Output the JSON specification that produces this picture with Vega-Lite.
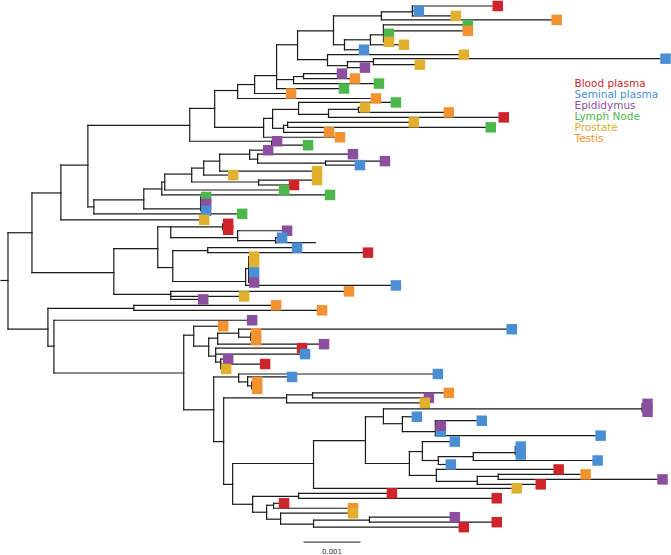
{
  "$schema": "https://vega.github.io/schema/vega-lite/v6.json",
  "width": 671,
  "height": 555,
  "autosize": {"type": "fit", "contains": "padding"},
  "padding": 0,
  "background": "white",
  "config": {"view": {"stroke": null}},
  "datasets": {
    "branches": [
      {"x":0,"x2":7,"y":280,"y2":280},{"x":7,"x2":7,"y":232,"y2":329},
      {"x":7,"x2":31,"y":232,"y2":232},{"x":31,"x2":31,"y":192,"y2":272},
      {"x":31,"x2":60,"y":192,"y2":192},{"x":60,"x2":60,"y":164,"y2":219},
      {"x":60,"x2":198,"y":219,"y2":219},
      {"x":60,"x2":87,"y":164,"y2":164},{"x":87,"x2":87,"y":124,"y2":206},
      {"x":87,"x2":189,"y":124,"y2":124},{"x":189,"x2":189,"y":107,"y2":140},
      {"x":189,"x2":214,"y":107,"y2":107},{"x":214,"x2":214,"y":89,"y2":126},
      {"x":214,"x2":237,"y":89,"y2":89},{"x":237,"x2":237,"y":83,"y2":97},
      {"x":237,"x2":370,"y":97,"y2":97},
      {"x":237,"x2":254,"y":83,"y2":83},{"x":254,"x2":254,"y":74,"y2":92},
      {"x":254,"x2":285,"y":92,"y2":92},
      {"x":254,"x2":276,"y":74,"y2":74},{"x":276,"x2":276,"y":43,"y2":87},
      {"x":276,"x2":338,"y":87,"y2":87},
      {"x":276,"x2":293,"y":78,"y2":78},{"x":293,"x2":293,"y":75,"y2":82},
      {"x":293,"x2":373,"y":82,"y2":82},
      {"x":293,"x2":303,"y":75,"y2":75},{"x":303,"x2":303,"y":72,"y2":77},
      {"x":303,"x2":336,"y":72,"y2":72},{"x":303,"x2":349,"y":77,"y2":77},
      {"x":276,"x2":297,"y":43,"y2":43},{"x":297,"x2":297,"y":29,"y2":58},
      {"x":297,"x2":333,"y":29,"y2":29},{"x":333,"x2":333,"y":14,"y2":43},
      {"x":333,"x2":381,"y":14,"y2":14},{"x":381,"x2":381,"y":10,"y2":18},
      {"x":381,"x2":412,"y":10,"y2":10},{"x":412,"x2":412,"y":4,"y2":14},
      {"x":412,"x2":492,"y":4,"y2":4},{"x":412,"x2":413,"y":9,"y2":9},{"x":412,"x2":450,"y":14,"y2":14},
      {"x":381,"x2":551,"y":18,"y2":18},
      {"x":333,"x2":344,"y":43,"y2":43},{"x":344,"x2":344,"y":38,"y2":48},
      {"x":344,"x2":370,"y":38,"y2":38},{"x":370,"x2":370,"y":33,"y2":43},
      {"x":370,"x2":383,"y":33,"y2":33},{"x":383,"x2":383,"y":23,"y2":40},
      {"x":383,"x2":462,"y":23,"y2":23},{"x":383,"x2":462,"y":29,"y2":29},
      {"x":370,"x2":398,"y":43,"y2":43},
      {"x":344,"x2":358,"y":48,"y2":48},
      {"x":297,"x2":327,"y":58,"y2":58},{"x":327,"x2":327,"y":53,"y2":64},
      {"x":327,"x2":458,"y":53,"y2":53},
      {"x":327,"x2":347,"y":64,"y2":64},{"x":347,"x2":347,"y":60,"y2":66},
      {"x":347,"x2":373,"y":60,"y2":60},{"x":373,"x2":373,"y":57,"y2":63},
      {"x":373,"x2":660,"y":57,"y2":57},{"x":373,"x2":414,"y":63,"y2":63},
      {"x":347,"x2":359,"y":66,"y2":66},
      {"x":214,"x2":263,"y":126,"y2":126},{"x":263,"x2":263,"y":117,"y2":136},
      {"x":263,"x2":272,"y":117,"y2":117},{"x":272,"x2":272,"y":108,"y2":127},
      {"x":272,"x2":298,"y":108,"y2":108},{"x":298,"x2":298,"y":101,"y2":113},
      {"x":298,"x2":390,"y":101,"y2":101},
      {"x":298,"x2":328,"y":113,"y2":113},{"x":328,"x2":328,"y":108,"y2":116},
      {"x":328,"x2":358,"y":108,"y2":108},{"x":358,"x2":358,"y":106,"y2":111},
      {"x":358,"x2":359,"y":106,"y2":106},{"x":358,"x2":443,"y":111,"y2":111},
      {"x":328,"x2":498,"y":116,"y2":116},
      {"x":272,"x2":283,"y":127,"y2":127},{"x":283,"x2":283,"y":124,"y2":131},
      {"x":283,"x2":287,"y":124,"y2":124},{"x":287,"x2":287,"y":121,"y2":126},
      {"x":287,"x2":408,"y":121,"y2":121},{"x":287,"x2":485,"y":126,"y2":126},
      {"x":283,"x2":323,"y":131,"y2":131},
      {"x":263,"x2":334,"y":136,"y2":136},
      {"x":189,"x2":271,"y":140,"y2":140},{"x":271,"x2":271,"y":140,"y2":144},
      {"x":271,"x2":302,"y":144,"y2":144},
      {"x":87,"x2":93,"y":206,"y2":206},{"x":93,"x2":93,"y":199,"y2":213},
      {"x":93,"x2":236,"y":213,"y2":213},
      {"x":93,"x2":143,"y":199,"y2":199},{"x":143,"x2":143,"y":188,"y2":208},
      {"x":143,"x2":200,"y":208,"y2":208},{"x":200,"x2":200,"y":196,"y2":210},
      {"x":143,"x2":161,"y":188,"y2":188},{"x":161,"x2":161,"y":181,"y2":194},
      {"x":161,"x2":324,"y":194,"y2":194},
      {"x":161,"x2":164,"y":181,"y2":181},{"x":164,"x2":164,"y":173,"y2":189},
      {"x":164,"x2":278,"y":189,"y2":189},
      {"x":164,"x2":191,"y":173,"y2":173},{"x":191,"x2":191,"y":167,"y2":181},
      {"x":191,"x2":258,"y":181,"y2":181},{"x":258,"x2":258,"y":179,"y2":184},
      {"x":258,"x2":311,"y":179,"y2":179},{"x":258,"x2":288,"y":184,"y2":184},
      {"x":191,"x2":203,"y":167,"y2":167},{"x":203,"x2":203,"y":160,"y2":174},
      {"x":203,"x2":227,"y":174,"y2":174},
      {"x":203,"x2":219,"y":160,"y2":160},{"x":219,"x2":219,"y":153,"y2":170},
      {"x":219,"x2":311,"y":170,"y2":170},
      {"x":219,"x2":249,"y":153,"y2":153},{"x":249,"x2":249,"y":149,"y2":158},
      {"x":249,"x2":262,"y":149,"y2":149},
      {"x":249,"x2":257,"y":158,"y2":158},{"x":257,"x2":257,"y":153,"y2":162},
      {"x":257,"x2":347,"y":153,"y2":153},
      {"x":257,"x2":325,"y":162,"y2":162},{"x":325,"x2":325,"y":160,"y2":164},
      {"x":325,"x2":379,"y":160,"y2":160},{"x":325,"x2":354,"y":164,"y2":164},
      {"x":31,"x2":113,"y":272,"y2":272},{"x":113,"x2":113,"y":248,"y2":294},
      {"x":113,"x2":157,"y":248,"y2":248},{"x":157,"x2":157,"y":226,"y2":267},
      {"x":157,"x2":170,"y":226,"y2":226},{"x":170,"x2":170,"y":226,"y2":237},
      {"x":170,"x2":222,"y":226,"y2":226},{"x":222,"x2":222,"y":223,"y2":229},
      {"x":170,"x2":237,"y":237,"y2":237},{"x":237,"x2":237,"y":230,"y2":240},
      {"x":237,"x2":281,"y":230,"y2":230},
      {"x":237,"x2":275,"y":240,"y2":240},{"x":275,"x2":275,"y":237,"y2":242},
      {"x":275,"x2":276,"y":237,"y2":237},{"x":275,"x2":315,"y":242,"y2":242},
      {"x":157,"x2":172,"y":267,"y2":267},{"x":172,"x2":172,"y":250,"y2":281},
      {"x":172,"x2":207,"y":250,"y2":250},{"x":207,"x2":207,"y":247,"y2":252},
      {"x":207,"x2":291,"y":247,"y2":247},{"x":207,"x2":362,"y":252,"y2":252},
      {"x":172,"x2":245,"y":281,"y2":281},{"x":245,"x2":245,"y":268,"y2":285},
      {"x":245,"x2":248,"y":268,"y2":268},{"x":248,"x2":248,"y":256,"y2":282},
      {"x":245,"x2":390,"y":285,"y2":285},
      {"x":113,"x2":170,"y":294,"y2":294},{"x":170,"x2":170,"y":291,"y2":299},
      {"x":170,"x2":343,"y":291,"y2":291},{"x":170,"x2":238,"y":296,"y2":296},{"x":170,"x2":197,"y":299,"y2":299},
      {"x":7,"x2":47,"y":329,"y2":329},{"x":47,"x2":47,"y":308,"y2":346},
      {"x":47,"x2":133,"y":308,"y2":308},{"x":133,"x2":133,"y":305,"y2":310},
      {"x":133,"x2":270,"y":305,"y2":305},{"x":133,"x2":316,"y":310,"y2":310},
      {"x":47,"x2":53,"y":346,"y2":346},{"x":53,"x2":53,"y":320,"y2":373},
      {"x":53,"x2":246,"y":320,"y2":320},
      {"x":53,"x2":183,"y":373,"y2":373},{"x":183,"x2":183,"y":335,"y2":410},
      {"x":183,"x2":193,"y":335,"y2":335},{"x":193,"x2":193,"y":326,"y2":346},
      {"x":193,"x2":217,"y":326,"y2":326},
      {"x":193,"x2":208,"y":346,"y2":346},{"x":208,"x2":208,"y":338,"y2":356},
      {"x":208,"x2":217,"y":338,"y2":338},{"x":217,"x2":217,"y":333,"y2":344},
      {"x":217,"x2":238,"y":333,"y2":333},{"x":238,"x2":238,"y":329,"y2":337},
      {"x":238,"x2":506,"y":329,"y2":329},
      {"x":238,"x2":250,"y":337,"y2":337},{"x":250,"x2":250,"y":333,"y2":340},
      {"x":217,"x2":318,"y":344,"y2":344},
      {"x":208,"x2":215,"y":356,"y2":356},{"x":215,"x2":215,"y":348,"y2":362},
      {"x":215,"x2":296,"y":348,"y2":348},{"x":215,"x2":299,"y":354,"y2":354},
      {"x":215,"x2":220,"y":362,"y2":362},{"x":220,"x2":220,"y":359,"y2":369},
      {"x":220,"x2":222,"y":359,"y2":359},{"x":220,"x2":259,"y":364,"y2":364},
      {"x":183,"x2":213,"y":410,"y2":410},{"x":213,"x2":213,"y":377,"y2":442},
      {"x":213,"x2":238,"y":377,"y2":377},{"x":238,"x2":238,"y":374,"y2":382},
      {"x":238,"x2":432,"y":374,"y2":374},
      {"x":238,"x2":247,"y":382,"y2":382},{"x":247,"x2":247,"y":377,"y2":386},
      {"x":247,"x2":286,"y":377,"y2":377},
      {"x":247,"x2":251,"y":386,"y2":386},{"x":251,"x2":251,"y":382,"y2":389},
      {"x":213,"x2":223,"y":442,"y2":442},{"x":223,"x2":223,"y":398,"y2":485},
      {"x":223,"x2":286,"y":398,"y2":398},{"x":286,"x2":286,"y":395,"y2":403},
      {"x":286,"x2":312,"y":395,"y2":395},{"x":312,"x2":312,"y":393,"y2":398},
      {"x":312,"x2":443,"y":393,"y2":393},{"x":312,"x2":423,"y":398,"y2":398},
      {"x":286,"x2":419,"y":403,"y2":403},
      {"x":223,"x2":232,"y":485,"y2":485},{"x":232,"x2":232,"y":464,"y2":505},
      {"x":232,"x2":313,"y":464,"y2":464},{"x":313,"x2":313,"y":441,"y2":489},
      {"x":313,"x2":365,"y":441,"y2":441},{"x":365,"x2":365,"y":417,"y2":464},
      {"x":365,"x2":383,"y":417,"y2":417},{"x":383,"x2":383,"y":409,"y2":424},
      {"x":383,"x2":642,"y":409,"y2":409},{"x":642,"x2":642,"y":404,"y2":412},
      {"x":383,"x2":402,"y":424,"y2":424},{"x":402,"x2":402,"y":417,"y2":432},
      {"x":402,"x2":411,"y":417,"y2":417},
      {"x":402,"x2":435,"y":432,"y2":432},{"x":435,"x2":435,"y":421,"y2":436},
      {"x":435,"x2":476,"y":421,"y2":421},{"x":435,"x2":595,"y":436,"y2":436},
      {"x":365,"x2":409,"y":464,"y2":464},{"x":409,"x2":409,"y":452,"y2":476},
      {"x":409,"x2":422,"y":452,"y2":452},{"x":422,"x2":422,"y":442,"y2":461},
      {"x":422,"x2":449,"y":442,"y2":442},
      {"x":422,"x2":438,"y":461,"y2":461},{"x":438,"x2":438,"y":457,"y2":465},
      {"x":438,"x2":473,"y":457,"y2":457},{"x":473,"x2":473,"y":453,"y2":461},
      {"x":473,"x2":515,"y":453,"y2":453},{"x":515,"x2":515,"y":447,"y2":455},
      {"x":473,"x2":592,"y":461,"y2":461},
      {"x":438,"x2":445,"y":465,"y2":465},
      {"x":409,"x2":436,"y":476,"y2":476},{"x":436,"x2":436,"y":470,"y2":482},
      {"x":436,"x2":553,"y":470,"y2":470},
      {"x":436,"x2":477,"y":482,"y2":482},{"x":477,"x2":477,"y":477,"y2":485},
      {"x":477,"x2":498,"y":477,"y2":477},{"x":498,"x2":498,"y":475,"y2":480},
      {"x":498,"x2":580,"y":475,"y2":475},{"x":498,"x2":657,"y":480,"y2":480},
      {"x":477,"x2":535,"y":485,"y2":485},
      {"x":313,"x2":511,"y":489,"y2":489},
      {"x":232,"x2":252,"y":505,"y2":505},{"x":252,"x2":252,"y":497,"y2":513},
      {"x":252,"x2":298,"y":497,"y2":497},{"x":298,"x2":298,"y":494,"y2":499},
      {"x":298,"x2":386,"y":494,"y2":494},{"x":298,"x2":491,"y":499,"y2":499},
      {"x":252,"x2":266,"y":513,"y2":513},{"x":266,"x2":266,"y":506,"y2":520},
      {"x":266,"x2":273,"y":506,"y2":506},{"x":273,"x2":273,"y":504,"y2":509},
      {"x":273,"x2":278,"y":504,"y2":504},{"x":273,"x2":347,"y":509,"y2":509},
      {"x":266,"x2":280,"y":520,"y2":520},{"x":280,"x2":280,"y":514,"y2":525},
      {"x":280,"x2":347,"y":514,"y2":514},
      {"x":280,"x2":313,"y":525,"y2":525},{"x":313,"x2":313,"y":521,"y2":528},
      {"x":313,"x2":369,"y":521,"y2":521},{"x":369,"x2":369,"y":518,"y2":523},
      {"x":369,"x2":449,"y":518,"y2":518},{"x":369,"x2":491,"y":523,"y2":523},
      {"x":313,"x2":458,"y":528,"y2":528}
    ],
    "tips": [
      {"x":492,"y":4,"tissue":"Blood plasma"},{"x":413,"y":9,"tissue":"Seminal plasma"},
      {"x":450,"y":14,"tissue":"Prostate"},{"x":551,"y":18,"tissue":"Testis"},
      {"x":462,"y":23,"tissue":"Lymph Node"},{"x":462,"y":29,"tissue":"Testis"},
      {"x":383,"y":32,"tissue":"Lymph Node"},{"x":383,"y":40,"tissue":"Prostate"},
      {"x":398,"y":43,"tissue":"Prostate"},{"x":358,"y":48,"tissue":"Seminal plasma"},
      {"x":458,"y":53,"tissue":"Prostate"},{"x":660,"y":57,"tissue":"Seminal plasma"},
      {"x":414,"y":63,"tissue":"Prostate"},{"x":359,"y":66,"tissue":"Epididymus"},
      {"x":336,"y":72,"tissue":"Epididymus"},{"x":349,"y":77,"tissue":"Testis"},
      {"x":373,"y":82,"tissue":"Lymph Node"},{"x":338,"y":87,"tissue":"Lymph Node"},
      {"x":285,"y":92,"tissue":"Testis"},{"x":370,"y":97,"tissue":"Testis"},
      {"x":390,"y":101,"tissue":"Lymph Node"},{"x":359,"y":106,"tissue":"Prostate"},
      {"x":443,"y":111,"tissue":"Testis"},{"x":498,"y":116,"tissue":"Blood plasma"},
      {"x":408,"y":121,"tissue":"Prostate"},{"x":485,"y":126,"tissue":"Lymph Node"},
      {"x":323,"y":131,"tissue":"Testis"},{"x":334,"y":136,"tissue":"Testis"},
      {"x":271,"y":140,"tissue":"Epididymus"},{"x":302,"y":144,"tissue":"Lymph Node"},
      {"x":262,"y":149,"tissue":"Epididymus"},{"x":347,"y":153,"tissue":"Epididymus"},
      {"x":379,"y":160,"tissue":"Epididymus"},{"x":354,"y":164,"tissue":"Seminal plasma"},
      {"x":227,"y":174,"tissue":"Prostate"},{"x":311,"y":170,"tissue":"Prostate"},
      {"x":311,"y":179,"tissue":"Prostate"},{"x":288,"y":184,"tissue":"Blood plasma"},
      {"x":278,"y":189,"tissue":"Lymph Node"},{"x":324,"y":194,"tissue":"Lymph Node"},
      {"x":200,"y":196,"tissue":"Lymph Node"},{"x":200,"y":203,"tissue":"Epididymus"},
      {"x":200,"y":210,"tissue":"Seminal plasma"},{"x":236,"y":213,"tissue":"Lymph Node"},
      {"x":198,"y":219,"tissue":"Prostate"},{"x":222,"y":223,"tissue":"Blood plasma"},
      {"x":222,"y":229,"tissue":"Blood plasma"},{"x":281,"y":230,"tissue":"Epididymus"},
      {"x":276,"y":237,"tissue":"Seminal plasma"},{"x":291,"y":247,"tissue":"Seminal plasma"},
      {"x":362,"y":252,"tissue":"Blood plasma"},{"x":248,"y":256,"tissue":"Prostate"},
      {"x":248,"y":263,"tissue":"Prostate"},{"x":248,"y":272,"tissue":"Seminal plasma"},
      {"x":248,"y":282,"tissue":"Epididymus"},{"x":390,"y":285,"tissue":"Seminal plasma"},
      {"x":343,"y":291,"tissue":"Testis"},{"x":238,"y":296,"tissue":"Prostate"},
      {"x":197,"y":299,"tissue":"Epididymus"},{"x":270,"y":305,"tissue":"Testis"},
      {"x":316,"y":310,"tissue":"Testis"},{"x":246,"y":320,"tissue":"Epididymus"},
      {"x":217,"y":326,"tissue":"Testis"},{"x":250,"y":333,"tissue":"Testis"},
      {"x":250,"y":340,"tissue":"Testis"},{"x":506,"y":329,"tissue":"Seminal plasma"},
      {"x":318,"y":344,"tissue":"Epididymus"},{"x":296,"y":348,"tissue":"Blood plasma"},
      {"x":299,"y":354,"tissue":"Seminal plasma"},{"x":222,"y":359,"tissue":"Epididymus"},
      {"x":259,"y":364,"tissue":"Blood plasma"},{"x":220,"y":369,"tissue":"Prostate"},
      {"x":286,"y":377,"tissue":"Seminal plasma"},{"x":432,"y":374,"tissue":"Seminal plasma"},
      {"x":251,"y":382,"tissue":"Testis"},{"x":251,"y":389,"tissue":"Testis"},
      {"x":443,"y":393,"tissue":"Testis"},{"x":423,"y":398,"tissue":"Epididymus"},
      {"x":419,"y":403,"tissue":"Prostate"},{"x":642,"y":404,"tissue":"Epididymus"},
      {"x":642,"y":412,"tissue":"Epididymus"},{"x":411,"y":417,"tissue":"Seminal plasma"},
      {"x":476,"y":421,"tissue":"Seminal plasma"},{"x":435,"y":432,"tissue":"Seminal plasma"},
      {"x":435,"y":426,"tissue":"Epididymus"},
      {"x":595,"y":436,"tissue":"Seminal plasma"},{"x":449,"y":442,"tissue":"Seminal plasma"},
      {"x":515,"y":447,"tissue":"Seminal plasma"},{"x":515,"y":455,"tissue":"Seminal plasma"},
      {"x":592,"y":461,"tissue":"Seminal plasma"},{"x":445,"y":465,"tissue":"Seminal plasma"},
      {"x":553,"y":470,"tissue":"Blood plasma"},{"x":580,"y":475,"tissue":"Testis"},
      {"x":657,"y":480,"tissue":"Epididymus"},{"x":535,"y":485,"tissue":"Blood plasma"},
      {"x":511,"y":489,"tissue":"Prostate"},{"x":386,"y":494,"tissue":"Blood plasma"},
      {"x":491,"y":499,"tissue":"Blood plasma"},{"x":278,"y":504,"tissue":"Blood plasma"},
      {"x":347,"y":509,"tissue":"Testis"},{"x":347,"y":514,"tissue":"Prostate"},
      {"x":449,"y":518,"tissue":"Epididymus"},{"x":491,"y":523,"tissue":"Blood plasma"},
      {"x":458,"y":528,"tissue":"Blood plasma"}
    ],
    "scalebar": [{"x":303,"x2":360,"mid":331.5,"y":543,"ly":553,"label":"0.001"}]
  },
  "layer": [
    {
      "data": {"name": "branches"},
      "mark": {"type": "rule", "color": "#1a1a1a", "strokeWidth": 1.2, "strokeCap": "square"},
      "encoding": {
        "x": {"field": "x", "type": "quantitative", "scale": {"domain": [0, 671], "nice": false, "zero": false}, "axis": null},
        "x2": {"field": "x2"},
        "y": {"field": "y", "type": "quantitative", "scale": {"domain": [0, 555], "nice": false, "zero": false, "reverse": true}, "axis": null},
        "y2": {"field": "y2"}
      }
    },
    {
      "data": {"name": "tips"},
      "mark": {"type": "point", "shape": "square", "filled": true, "opacity": 1, "size": 110, "xOffset": 5.5},
      "encoding": {
        "x": {"field": "x", "type": "quantitative", "scale": {"domain": [0, 671], "nice": false, "zero": false}, "axis": null},
        "y": {"field": "y", "type": "quantitative", "scale": {"domain": [0, 555], "nice": false, "zero": false, "reverse": true}, "axis": null},
        "color": {
          "field": "tissue", "type": "nominal",
          "scale": {
            "domain": ["Blood plasma", "Seminal plasma", "Epididymus", "Lymph Node", "Prostate", "Testis"],
            "range": ["#cf242b", "#4a8fd3", "#8c4f9f", "#4cb74a", "#e0b02e", "#f39231"]
          },
          "legend": {
            "orient": "none", "legendX": 563, "legendY": 77, "title": null,
            "symbolSize": 0, "symbolOpacity": 0, "symbolStrokeWidth": 0,
            "labelOffset": 0, "padding": 0, "rowPadding": -0.4,
            "labelFontSize": 10.5, "labelFont": "DejaVu Sans", "labelLimit": 200,
            "encode": {"labels": {"update": {"fill": {"scale": "color", "field": "value"}}}}
          }
        }
      }
    },
    {
      "data": {"name": "scalebar"},
      "mark": {"type": "rule", "color": "#1a1a1a", "strokeWidth": 1},
      "encoding": {
        "x": {"field": "x", "type": "quantitative", "scale": {"domain": [0, 671], "nice": false, "zero": false}, "axis": null},
        "x2": {"field": "x2"},
        "y": {"field": "y", "type": "quantitative", "scale": {"domain": [0, 555], "nice": false, "zero": false, "reverse": true}, "axis": null}
      }
    },
    {
      "data": {"name": "scalebar"},
      "mark": {"type": "text", "fontSize": 7, "font": "DejaVu Sans", "color": "#333333", "baseline": "middle", "align": "center"},
      "encoding": {
        "x": {"field": "mid", "type": "quantitative", "scale": {"domain": [0, 671], "nice": false, "zero": false}, "axis": null},
        "y": {"field": "ly", "type": "quantitative", "scale": {"domain": [0, 555], "nice": false, "zero": false, "reverse": true}, "axis": null},
        "text": {"field": "label"}
      }
    }
  ]
}
